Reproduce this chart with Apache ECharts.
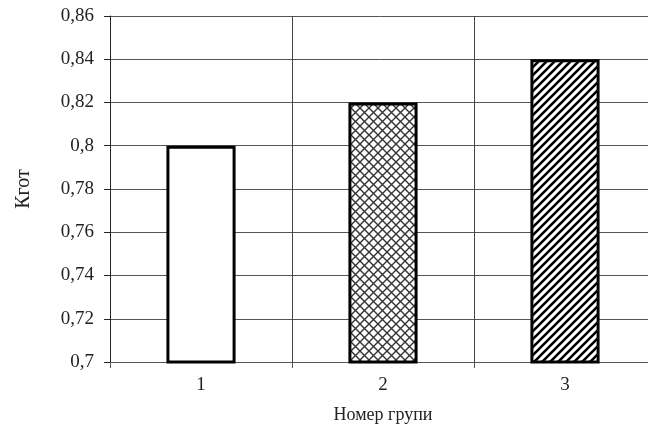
<!DOCTYPE html>
<html><head><meta charset="utf-8">
<script src="https://cdn.jsdelivr.net/npm/echarts@6/dist/echarts.min.js"></script>
<style>html,body{margin:0;padding:0;background:#fff}#c{width:648px;height:428px}</style>
</head><body><div id="c"></div>
<script>
const categories = ['1', '2', '3'];
const values = [0.80, 0.82, 0.84];
const yTicks = [0.7, 0.72, 0.74, 0.76, 0.78, 0.8, 0.82, 0.84, 0.86];
const yName = 'Кгот';
const xName = 'Номер групи';

function crossPattern() {
  const s = 9, c = document.createElement('canvas');
  c.width = s; c.height = s;
  const g = c.getContext('2d');
  g.fillStyle = '#fff'; g.fillRect(0, 0, s, s);
  g.strokeStyle = '#333'; g.lineWidth = 1.4;
  g.beginPath();
  g.moveTo(0, 0); g.lineTo(s, s);
  g.moveTo(s, 0); g.lineTo(0, s);
  g.stroke();
  return c;
}
function diagPattern() {
  const s = 8, c = document.createElement('canvas');
  c.width = s; c.height = s;
  const g = c.getContext('2d');
  g.fillStyle = '#fff'; g.fillRect(0, 0, s, s);
  g.strokeStyle = '#000'; g.lineWidth = 2.6;
  g.beginPath();
  g.moveTo(-2, s + 2); g.lineTo(s + 2, -2);
  g.moveTo(-2, 2); g.lineTo(2, -2);
  g.moveTo(s - 2, s + 2); g.lineTo(s + 2, s - 2);
  g.stroke();
  return c;
}
const fills = ['#ffffff', { image: crossPattern(), repeat: 'repeat' }, { image: diagPattern(), repeat: 'repeat' }];

const chart = echarts.init(document.getElementById('c'), null, { renderer: 'canvas' });
const font = '"Liberation Serif", "Times New Roman", serif';
chart.setOption({
  animation: false,
  textStyle: { fontFamily: font },
  grid: { left: 110, width: 546, top: 16, height: 346, containLabel: false, outerBoundsMode: 'none' },
  xAxis: {
    type: 'category', data: categories,
    name: xName, nameLocation: 'middle', nameGap: 44,
    nameTextStyle: { fontFamily: font, fontSize: 18, color: '#222' },
    axisLine: { lineStyle: { color: '#555', width: 1 } },
    axisTick: { show: true, length: 6, lineStyle: { color: '#555' } },
    axisLabel: { fontFamily: font, fontSize: 19, color: '#222', margin: 14 },
    splitLine: { show: true, lineStyle: { color: '#444', width: 1 } }
  },
  yAxis: {
    type: 'value', min: 0.7, max: 0.86, interval: 0.02,
    name: yName, nameLocation: 'middle', nameGap: 76, nameRotate: 90,
    nameTextStyle: { fontFamily: font, fontSize: 20, color: '#222' },
    axisLine: { show: true, lineStyle: { color: '#222', width: 1 } },
    axisTick: { show: true, length: 6, lineStyle: { color: '#222' } },
    axisLabel: {
      fontFamily: font, fontSize: 19, color: '#222', margin: 16,
      formatter: v => {
        const t = yTicks.find(x => Math.abs(x - v) < 1e-6);
        return String(t !== undefined ? t : v).replace('.', ',');
      }
    },
    splitLine: { show: true, lineStyle: { color: '#555', width: 1 } }
  },
  series: [{
    type: 'bar', barWidth: '38%',
    data: values.map((v, i) => ({ value: v, itemStyle: { color: fills[i] } })),
    itemStyle: { borderColor: '#000', borderWidth: 3 }
  }]
});
</script></body></html>
